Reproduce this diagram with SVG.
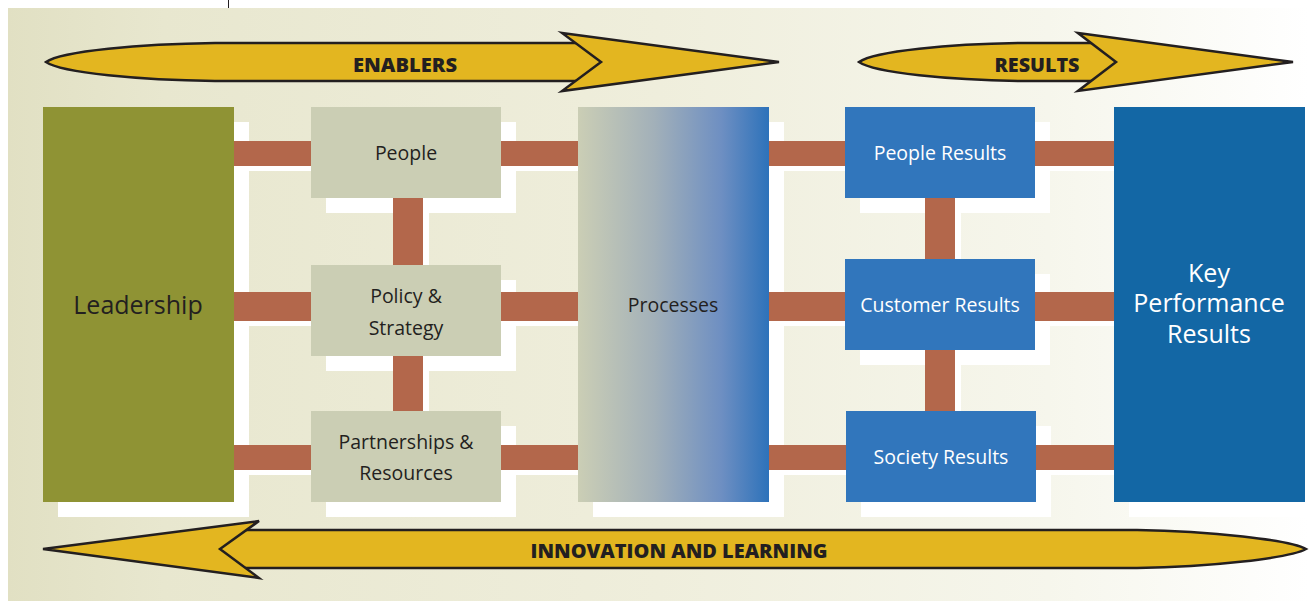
<svg xmlns="http://www.w3.org/2000/svg" width="1309" height="601" viewBox="0 0 1309 601">
  <defs>
    <linearGradient id="bg" x1="0" y1="0" x2="1" y2="0">
      <stop offset="0" stop-color="#e1e0c3"/>
      <stop offset="0.12" stop-color="#e8e7cf"/>
      <stop offset="0.5" stop-color="#efeedc"/>
      <stop offset="0.8" stop-color="#f6f6ec"/>
      <stop offset="1" stop-color="#ffffff"/>
    </linearGradient>
    <linearGradient id="proc" x1="0" y1="0" x2="1" y2="0">
      <stop offset="0" stop-color="#cbceb5"/>
      <stop offset="0.4" stop-color="#a2b0b9"/>
      <stop offset="0.75" stop-color="#6e8fc2"/>
      <stop offset="1" stop-color="#2d72ba"/>
    </linearGradient>
    <style>
      .shadow { fill: #ffffff; }
      .bar { fill: #b3674b; }
      .enabler { fill: #cbceb4; }
      .result { fill: #3176bc; }
      .arrow { fill: #e3b620; stroke: #231f20; stroke-width: 2.5; stroke-linejoin: miter; }
      .alabel { font-family: "Open Sans", "Liberation Sans", sans-serif; font-weight: 800; font-size: 20px; fill: #231f20; text-anchor: middle; }
      .lbl { font-family: "Open Sans", "Noto Sans", sans-serif; font-size: 19.5px; text-anchor: middle; }
      .dark { fill: #231f20; }
      .light { fill: #ffffff; }
    </style>
  </defs>

  <rect x="0" y="0" width="1309" height="601" fill="#ffffff"/>
  <rect x="8" y="8" width="1301" height="593" fill="url(#bg)"/>
  <line x1="228.5" y1="0" x2="228.5" y2="8" stroke="#231f20" stroke-width="1"/>

  <!-- white shadows -->
  <g id="shadows">
    <rect class="shadow" x="58" y="122" width="191" height="395"/>
    <rect class="shadow" x="326" y="122" width="190" height="91"/>
    <rect class="shadow" x="326" y="280" width="190" height="91"/>
    <rect class="shadow" x="326" y="426" width="190" height="91"/>
    <rect class="shadow" x="593" y="122" width="191" height="395"/>
    <rect class="shadow" x="860" y="122" width="190" height="91"/>
    <rect class="shadow" x="860" y="274" width="190" height="91"/>
    <rect class="shadow" x="861" y="426" width="190" height="91"/>
    <rect class="shadow" x="1129" y="122" width="191" height="395"/>
    <rect class="shadow" x="240" y="146" width="880" height="25"/>
    <rect class="shadow" x="240" y="297" width="880" height="29"/>
    <rect class="shadow" x="240" y="450" width="880" height="25"/>
    <rect class="shadow" x="399" y="203" width="30" height="67"/>
    <rect class="shadow" x="399" y="361" width="30" height="55"/>
    <rect class="shadow" x="931" y="203" width="30" height="61"/>
    <rect class="shadow" x="931" y="355" width="30" height="61"/>
  </g>

  <!-- connectors -->
  <g id="connectors">
    <rect class="bar" x="234" y="141" width="880" height="25"/>
    <rect class="bar" x="234" y="292" width="880" height="29"/>
    <rect class="bar" x="234" y="445" width="880" height="25"/>
    <rect class="bar" x="393" y="198" width="30" height="67"/>
    <rect class="bar" x="393" y="356" width="30" height="55"/>
    <rect class="bar" x="925" y="198" width="30" height="61"/>
    <rect class="bar" x="925" y="350" width="30" height="61"/>
  </g>

  <g id="leadership">
    <rect x="43" y="107" width="191" height="395" fill="#8f9334"/>
    <text class="lbl dark" x="138" y="314" style="font-size:25px">Leadership</text>
  </g>
  <g id="people">
    <rect class="enabler" x="311" y="107" width="190" height="91"/>
    <text class="lbl dark" x="406" y="160">People</text>
  </g>
  <g id="policy-strategy">
    <rect class="enabler" x="311" y="265" width="190" height="91"/>
    <text class="lbl dark" x="406" y="303">Policy &amp;</text>
    <text class="lbl dark" x="406" y="335">Strategy</text>
  </g>
  <g id="partnerships-resources">
    <rect class="enabler" x="311" y="411" width="190" height="91"/>
    <text class="lbl dark" x="406" y="449">Partnerships &amp;</text>
    <text class="lbl dark" x="406" y="480">Resources</text>
  </g>
  <g id="processes">
    <rect x="578" y="107" width="191" height="395" fill="url(#proc)"/>
    <text class="lbl dark" x="673" y="312">Processes</text>
  </g>
  <g id="people-results">
    <rect class="result" x="845" y="107" width="190" height="91"/>
    <text class="lbl light" x="940" y="160">People Results</text>
  </g>
  <g id="customer-results">
    <rect class="result" x="845" y="259" width="190" height="91"/>
    <text class="lbl light" x="940" y="312">Customer Results</text>
  </g>
  <g id="society-results">
    <rect class="result" x="846" y="411" width="190" height="91"/>
    <text class="lbl light" x="941" y="464">Society Results</text>
  </g>
  <g id="key-performance-results">
    <rect x="1114" y="107" width="191" height="395" fill="#1367a5"/>
    <text class="lbl light" x="1209" y="282" style="font-size:25px">Key</text>
    <text class="lbl light" x="1209" y="312" style="font-size:25px">Performance</text>
    <text class="lbl light" x="1209" y="343" style="font-size:25px">Results</text>
  </g>

  <!-- band arrows -->
  <g id="enablers-arrow">
    <path class="arrow" d="M 46,62 C 62,51 140,44 215,43 L 601,43 L 601,81 L 215,81 C 140,80 62,73 46,62 Z"/>
    <path class="arrow" d="M 562,33 L 779,62 L 562,91 L 601,62 Z"/>
    <text class="alabel" x="405" y="72" textLength="104" lengthAdjust="spacingAndGlyphs">ENABLERS</text>
  </g>
  <g id="results-arrow">
    <path class="arrow" d="M 859,62 C 875,51 950,44 1020,43 L 1116,43 L 1116,81 L 1020,81 C 950,80 875,73 859,62 Z"/>
    <path class="arrow" d="M 1078,33 L 1293,62 L 1078,91 L 1116,62 Z"/>
    <text class="alabel" x="1037" y="72" textLength="85" lengthAdjust="spacingAndGlyphs">RESULTS</text>
  </g>
  <g id="innovation-arrow">
    <path class="arrow" d="M 220,530 L 1137,530 C 1210,531 1290,540 1306,549 C 1290,558 1210,567 1137,568 L 220,568 Z"/>
    <path class="arrow" d="M 259,521 L 43,549 L 259,578 L 220,549 Z"/>
    <text class="alabel" x="679" y="558" textLength="297" lengthAdjust="spacingAndGlyphs">INNOVATION AND LEARNING</text>
  </g>
</svg>
